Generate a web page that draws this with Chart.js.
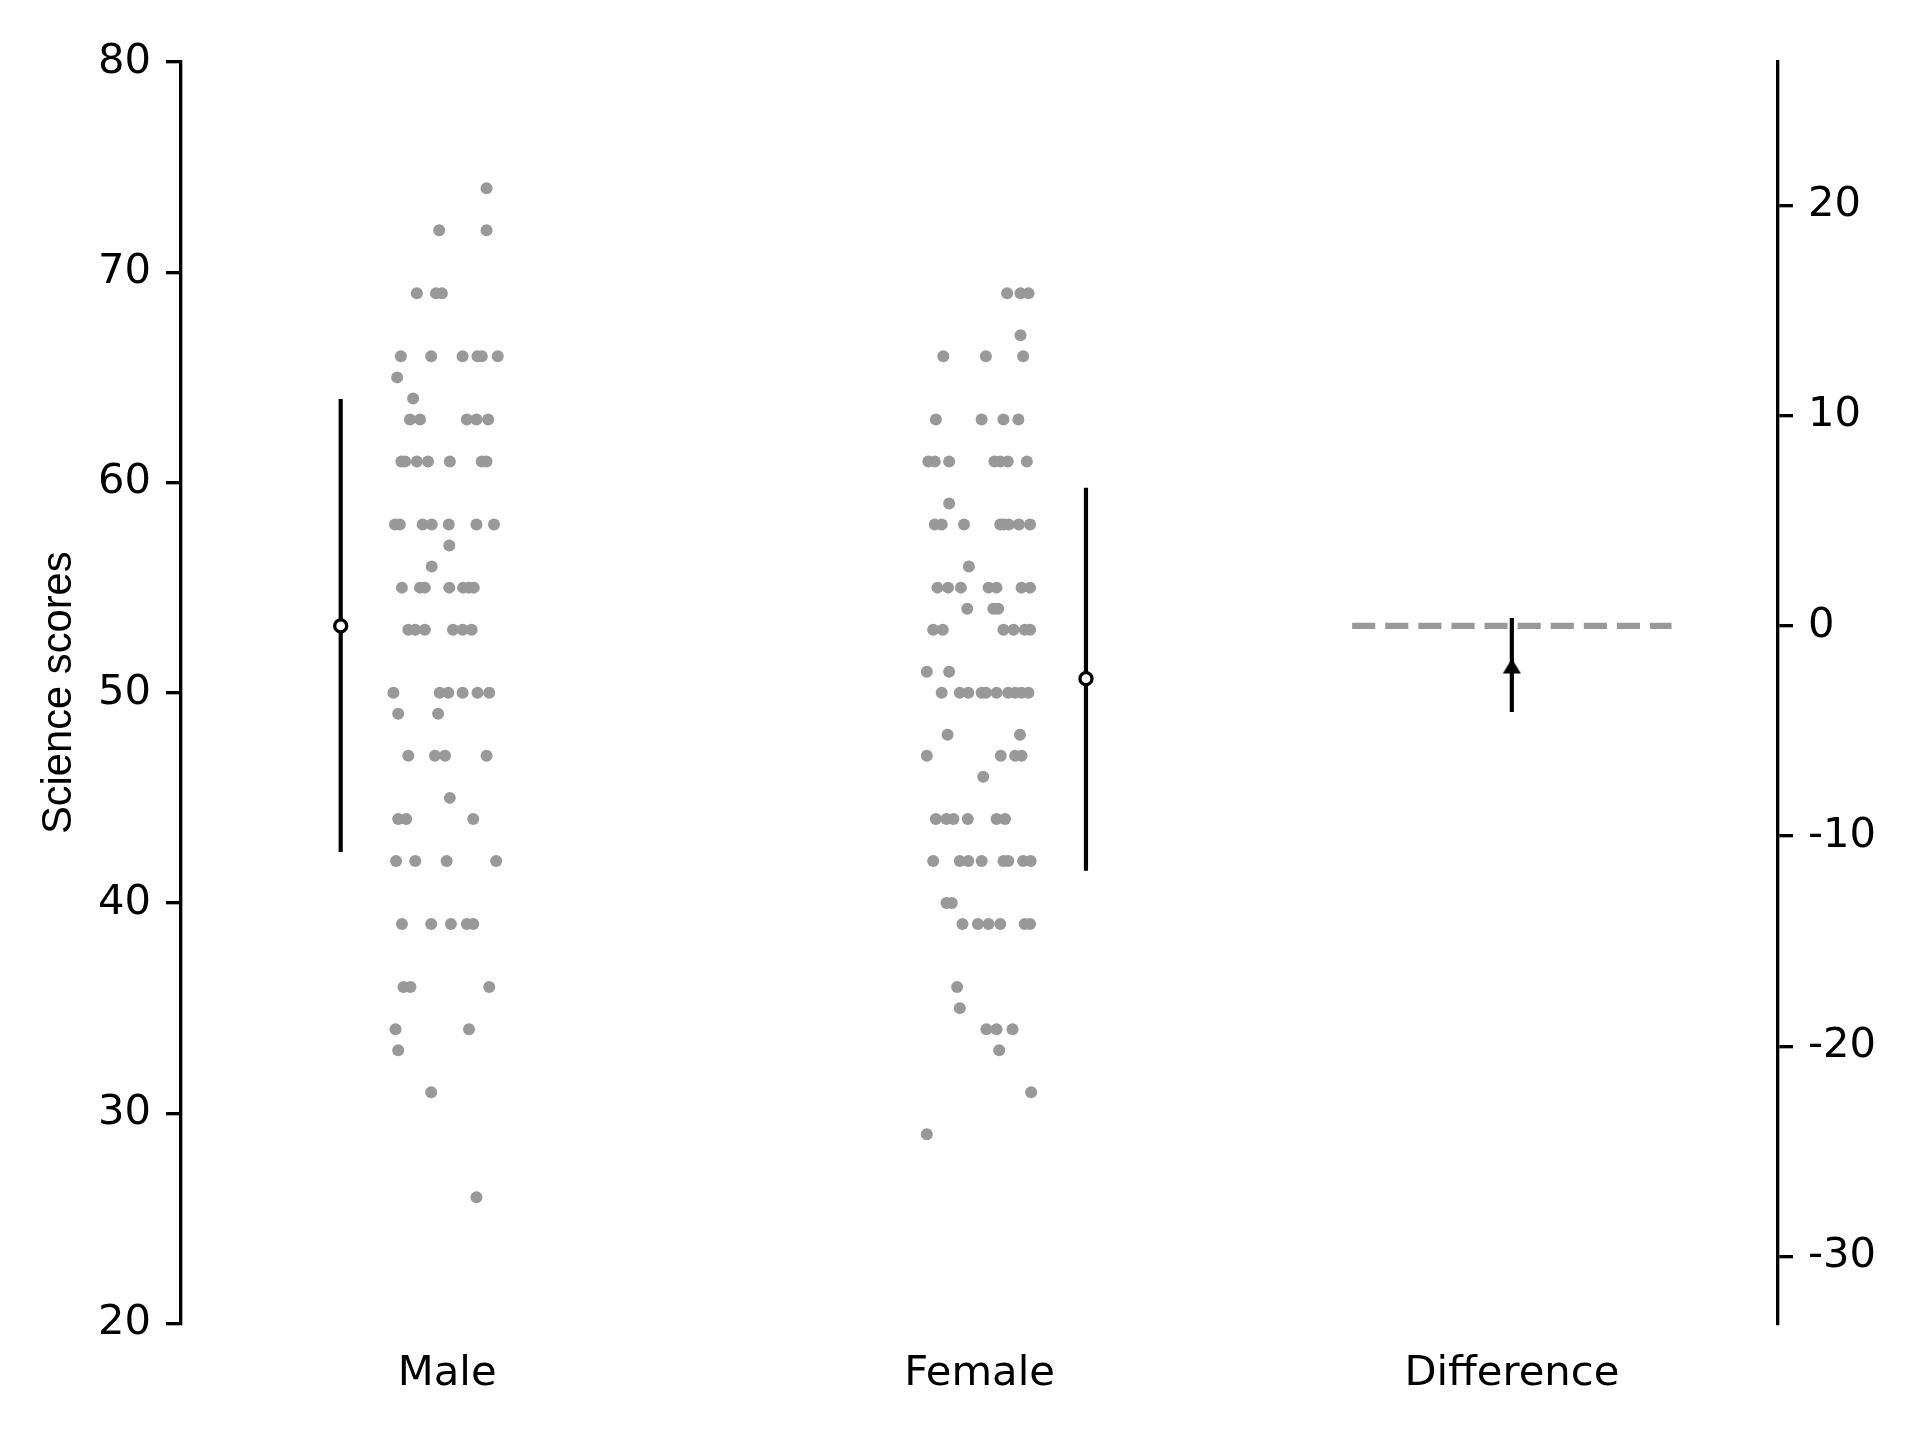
<!DOCTYPE html>
<html>
<head>
  <script src="https://cdn.jsdelivr.net/npm/chart.js"></script>
  <style>
    body { margin: 0; background: #fff; }
    canvas { display: block; }
  </style>
</head>
<body>
  <canvas id="scoresChart" width="1920" height="1440"></canvas>
  <script>
    // categories and tick labels
    const categories = ['Male', 'Female', 'Difference'];
    const leftTicks = [20, 30, 40, 50, 60, 70, 80];
    const rightTicks = [-30, -20, -10, 0, 10, 20];

    // individual scores with their horizontal jitter
    const maleScores = [74, 72, 72, 69, 69, 69, 66, 66, 66, 66, 66, 66, 65, 64,
      63, 63, 63, 63, 63, 61, 61, 61, 61, 61, 61, 61, 58, 58, 58, 58, 58, 58, 58,
      57, 56, 55, 55, 55, 55, 55, 55, 55, 53, 53, 53, 53, 53, 53,
      50, 50, 50, 50, 50, 50, 49, 49, 47, 47, 47, 47, 45, 44, 44, 44,
      42, 42, 42, 42, 39, 39, 39, 39, 39, 36, 36, 36, 34, 34, 33, 31, 26];
    const maleJitter = [0.074, -0.015, 0.074, -0.057, -0.021, -0.010,
      -0.087, -0.030, 0.029, 0.057, 0.065, 0.095, -0.094, -0.064,
      -0.070, -0.051, 0.037, 0.055, 0.077, -0.086, -0.079, -0.057, -0.036, 0.005, 0.065, 0.074,
      -0.098, -0.089, -0.046, -0.029, 0.003, 0.055, 0.088,
      0.004, -0.029, -0.085, -0.051, -0.042, 0.004, 0.030, 0.041, 0.050,
      -0.073, -0.060, -0.042, 0.011, 0.029, 0.046,
      -0.101, -0.014, 0.002, 0.029, 0.057, 0.079, -0.092, -0.017,
      -0.073, -0.023, -0.004, 0.074, 0.005, -0.092, -0.077, 0.049,
      -0.096, -0.060, -0.001, 0.092, -0.085, -0.030, 0.007, 0.037, 0.049,
      -0.082, -0.069, 0.079, -0.097, 0.041, -0.092, -0.030, 0.055];

    const femaleScores = [69, 69, 69, 67, 66, 66, 66, 63, 63, 63, 63,
      61, 61, 61, 61, 61, 61, 61, 59, 58, 58, 58, 58, 58, 58, 58, 58, 56,
      55, 55, 55, 55, 55, 55, 55, 54, 54, 54, 53, 53, 53, 53, 53, 53, 51, 51,
      50, 50, 50, 50, 50, 50, 50, 50, 50, 50, 48, 48, 47, 47, 47, 47, 46,
      44, 44, 44, 44, 44, 44, 42, 42, 42, 42, 42, 42, 42, 42, 40, 40,
      39, 39, 39, 39, 39, 39, 36, 35, 34, 34, 34, 33, 31, 29];
    const femaleJitter = [0.052, 0.077, 0.092, 0.077, -0.068, 0.012, 0.082,
      -0.082, 0.004, 0.045, 0.073,
      -0.096, -0.084, -0.057, 0.028, 0.039, 0.053, 0.089, -0.057,
      -0.084, -0.071, -0.029, 0.039, 0.046, 0.055, 0.074, 0.095, -0.020,
      -0.079, -0.059, -0.035, 0.017, 0.032, 0.079, 0.095, -0.023, 0.026, 0.035,
      -0.087, -0.069, 0.045, 0.064, 0.085, 0.095, -0.099, -0.057,
      -0.071, -0.037, -0.021, 0.004, 0.012, 0.032, 0.054, 0.067, 0.079, 0.092,
      -0.060, 0.076, -0.099, 0.040, 0.067, 0.079, 0.007,
      -0.082, -0.062, -0.049, -0.022, 0.032, 0.048,
      -0.087, -0.037, -0.021, 0.004, 0.045, 0.054, 0.082, 0.096, -0.062, -0.052,
      -0.032, -0.003, 0.017, 0.039, 0.085, 0.095, -0.042, -0.037,
      0.013, 0.032, 0.062, 0.037, 0.097, -0.099];

    // summary: group mean with mean +/- SD bar, placed beside each strip
    const groupMeans = [53.18, 50.67];
    const groupLow = [42.42, 41.53];
    const groupHigh = [63.97, 59.75];
    const summaryOffset = [-0.2, 0.2];

    // difference (right axis, zero at the male mean)
    const diffMean = -1.91;
    const diffLow = -4.09;
    const diffHigh = 0.37;
    const diffRefHalf = 0.3;

    const black = '#000000';
    const grey = '#999999';
    const tickFont = { family: 'DejaVu Sans', size: 41.7 };

    function strip(scores, jitter, cat) {
      return scores.map((s, i) => ({ x: cat + jitter[i], y: s }));
    }

    // little upward triangle for the difference point
    const tri = document.createElement('canvas');
    tri.width = 19; tri.height = 16;
    const tctx = tri.getContext('2d');
    tctx.fillStyle = black;
    tctx.beginPath();
    tctx.moveTo(9.5, 0.5);
    tctx.lineTo(18.5, 15.5);
    tctx.lineTo(0.5, 15.5);
    tctx.closePath();
    tctx.fill();

    const barStyle = { showLine: true, borderColor: black, borderWidth: 4.17, pointRadius: 0, order: 2 };

    const ctx = document.getElementById('scoresChart').getContext('2d');
    new Chart(ctx, {
      type: 'scatter',
      data: {
        datasets: [
          { data: strip(maleScores, maleJitter, 0), backgroundColor: grey, borderWidth: 0, pointRadius: 6, order: 3 },
          { data: strip(femaleScores, femaleJitter, 1), backgroundColor: grey, borderWidth: 0, pointRadius: 6, order: 3 },
          Object.assign({ data: [
            { x: 0 + summaryOffset[0], y: groupLow[0] }, { x: 0 + summaryOffset[0], y: groupHigh[0] }] }, barStyle),
          Object.assign({ data: [
            { x: 1 + summaryOffset[1], y: groupLow[1] }, { x: 1 + summaryOffset[1], y: groupHigh[1] }] }, barStyle),
          {
            data: groupMeans.map((m, i) => ({ x: i + summaryOffset[i], y: m })),
            backgroundColor: '#ffffff', borderColor: black, borderWidth: 3.3, pointRadius: 6, order: 0
          },
          {
            yAxisID: 'y2', showLine: true,
            data: [{ x: 2 - diffRefHalf, y: 0 }, { x: 2 + diffRefHalf, y: 0 }],
            borderColor: grey, borderWidth: 6.25, borderDash: [23.1, 10], pointRadius: 0, order: 2
          },
          Object.assign({ yAxisID: 'y2', data: [{ x: 2, y: diffLow }, { x: 2, y: diffHigh }] }, barStyle, { order: 1 }),
          {
            yAxisID: 'y2', data: [{ x: 2, y: diffMean }],
            pointStyle: tri, pointRadius: 9, order: 0
          }
        ]
      },
      options: {
        responsive: false,
        animation: false,
        devicePixelRatio: 1,
        layout: { padding: { top: 62, left: 0, right: 0, bottom: 0 } },
        plugins: { legend: { display: false }, tooltip: { enabled: false } },
        scales: {
          x: {
            type: 'linear', min: -0.5, max: 2.5,
            afterBuildTicks: s => { s.ticks = categories.map((c, i) => ({ value: i })); },
            ticks: { callback: v => categories[v], font: tickFont, color: black, padding: 26, maxRotation: 0 },
            grid: { display: false, drawTicks: false },
            border: { display: false },
            afterFit: s => { s.height = 116.5; }
          },
          y: {
            position: 'left', min: 20, max: 80,
            afterBuildTicks: s => { s.ticks = leftTicks.map(v => ({ value: v })); },
            ticks: { font: tickFont, color: black, padding: 15 },
            grid: { drawOnChartArea: false, tickLength: 15, color: black, lineWidth: 3.33 },
            border: { color: black, width: 3.33 },
            title: {
              display: true, text: 'Science scores', color: black,
              font: { family: 'Liberation Sans', size: 41.7, lineHeight: 1.2 },
              padding: { top: 34, bottom: 0 }
            },
            afterFit: s => { s.width = 181; }
          },
          y2: {
            position: 'right', min: 20 - groupMeans[0], max: 80 - groupMeans[0],
            afterBuildTicks: s => { s.ticks = rightTicks.map(v => ({ value: v })); },
            ticks: { font: tickFont, color: black, padding: 15, callback: v => String(v) },
            grid: { drawOnChartArea: false, tickLength: 15, color: black, lineWidth: 3.33 },
            border: { color: black, width: 3.33 },
            afterFit: s => { s.width = 142; }
          }
        }
      }
    });
  </script>
</body>
</html>
